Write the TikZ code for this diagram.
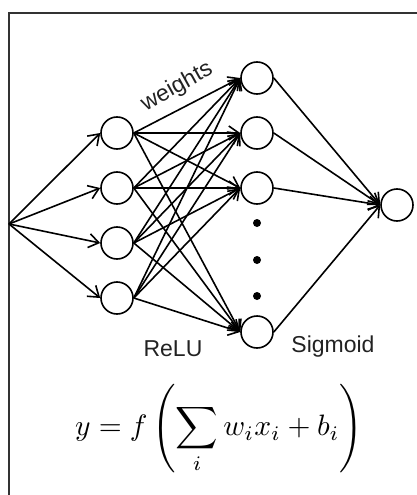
\documentclass[tikz,border=0pt]{standalone}
\usepackage{amsmath}
\usepackage{graphicx}
\usepackage{fontspec}
\newfontfamily\labelfont{Liberation Sans}
\usetikzlibrary{arrows.meta,positioning}
\definecolor{framegray}{HTML}{333333}
\definecolor{labelgray}{HTML}{222222}
\tikzset{
  neuron/.style={draw, circle, line width=1.6pt, minimum size=32pt, inner sep=0pt},
  ar/.style={-{Straight Barb[length=10pt, width=14pt, line width=1.6pt]}, line width=1.6pt},
  lbl/.style={font=\labelfont\fontsize{23}{26}\selectfont, text=labelgray, inner sep=0pt},
  bigdot/.style={circle, fill, minimum size=8pt, inner sep=0pt},
}

\begin{document}
\begin{tikzpicture}[x=1pt, y=-1pt]
  \useasboundingbox (0,0) rectangle (417,495);
  \clip (0,0) rectangle (417,495);
  \draw[framegray, line width=2.2pt] (9,13) rectangle (440,520);
  % layers
  \coordinate (in) at (9,224);
  \foreach \i/\y in {1/133,2/188,3/243,4/298}
    \node[neuron] (a\i) at (117,\y) {};
  \foreach \i/\y in {1/78,2/133,3/188,4/332}
    \node[neuron] (b\i) at (257,\y) {};
  \node[neuron] (out) at (397,205) {};
  \foreach \i/\y in {1/223,2/260,3/296}
    \node[bigdot] (d\i) at (257,\y) {};
  % connections
  \foreach \i in {1,...,4}
    \draw[ar] (in) -- (a\i.west);
  \foreach \i in {1,...,4}
    \foreach \j in {1,...,4}
      \draw[ar] (a\i.east) -- (b\j.west);
  \foreach \j in {1,...,4}
    \draw[ar] (b\j.east) -- (out.west);
  % labels
  \node[lbl, rotate=29] (wlbl) at (177,87) {weights};
  \node[lbl] (relu) at (173,349) {ReLU};
  \node[lbl] (sigm) at (333,347) {Sigmoid};
  \node[inner sep=0pt] (eq) at (219,429)
    {\scalebox{2.95}{$\displaystyle y = f\left(\sum_i w_i x_i + b_i\right)$}};
\end{tikzpicture}
\end{document}
